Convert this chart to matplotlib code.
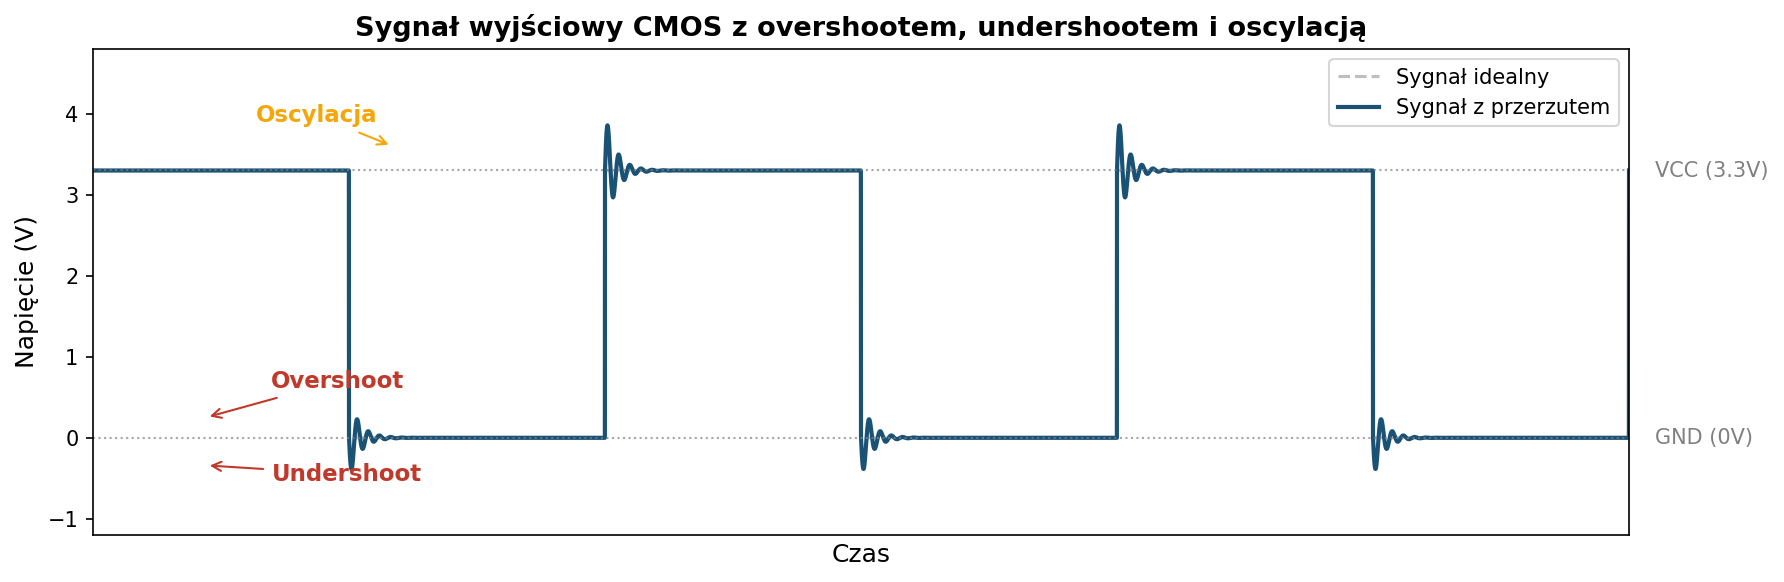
import matplotlib
matplotlib.use("Agg")
import matplotlib.pyplot as plt
import numpy as np

# poziomy logiczne
VCC = 3.3
GND = 0.0

# chwile zboczy (czas w jednostkach umownych) i kierunek: 1 = narastajace, -1 = opadajace
edge_times = [1, 2, 3, 4, 5]
edge_dirs = [-1, 1, -1, 1, -1]

# szczyt przerzutu po zboczu narastajacym / opadajacym
overshoot_peak = 0.55    # 3.85 V
undershoot_peak = 0.38   # -0.38 V
ring_freq = 23.0         # oscylacje na jednostke czasu
ring_decay = 0.042       # stala zaniku

t = np.linspace(0, 6, 12001)

# sygnal idealny
ideal = np.full_like(t, VCC)
for te, d in zip(edge_times, edge_dirs):
    ideal[t >= te] = VCC if d == 1 else GND
ideal[-1] = VCC  # kolejne zbocze narastajace na koncu okna

# sygnal z przerzutem = idealny + tlumione oscylacje po kazdym zboczu
q = np.exp(-0.25 / ring_freq / ring_decay)  # zanik do pierwszego szczytu
signal = ideal.copy()
for te, d in zip(edge_times, edge_dirs):
    dt = t - te
    m = (dt >= 0) & (dt < 0.5)
    amp = (overshoot_peak if d == 1 else undershoot_peak) / q
    signal[m] += d * amp * np.exp(-dt[m] / ring_decay) * np.sin(2 * np.pi * ring_freq * dt[m])

fig = plt.figure(figsize=(1784 / 150, 582 / 150), dpi=150)
ax = fig.add_axes([93 / 1784, 1 - 535 / 582, (1629 - 93) / 1784, (535 - 49) / 582])

ax.plot(t, ideal, '--', color='gray', alpha=0.5, linewidth=1.5, label='Sygnał idealny')
ax.plot(t, signal, color='#1a5276', linewidth=2, label='Sygnał z przerzutem')

ax.axhline(VCC, color='gray', linestyle=':', linewidth=1, alpha=0.7)
ax.axhline(GND, color='gray', linestyle=':', linewidth=1, alpha=0.7)
ax.text(6.1, VCC, 'VCC (3.3V)', color='gray', va='center', fontsize=10)
ax.text(6.1, GND, 'GND (0V)', color='gray', va='center', fontsize=10)

red = '#c0392b'
orange = '#f5a70a'
ax.annotate('Overshoot', xy=(0.44, 0.25), xytext=(0.955, 0.70), ha='center', va='center',
            color=red, fontsize=11, fontweight='bold',
            arrowprops=dict(arrowstyle='->', color=red))
ax.annotate('Undershoot', xy=(0.44, -0.34), xytext=(0.99, -0.45), ha='center', va='center',
            color=red, fontsize=11, fontweight='bold',
            arrowprops=dict(arrowstyle='->', color=red))
ax.annotate('Oscylacja', xy=(1.17, 3.60), xytext=(0.875, 3.98), ha='center', va='center',
            color=orange, fontsize=11, fontweight='bold',
            arrowprops=dict(arrowstyle='->', color=orange))

ax.set_xlim(0, 6)
ax.set_ylim(-1.2, 4.8)
ax.set_xticks([])
ax.set_xlabel('Czas', fontsize=12)
ax.set_ylabel('Napięcie (V)', fontsize=12)
ax.set_title('Sygnał wyjściowy CMOS z overshootem, undershootem i oscylacją', fontsize=13, fontweight='bold')
ax.legend(loc='upper right', fontsize=10)

fig.savefig('out.png', dpi=150)
